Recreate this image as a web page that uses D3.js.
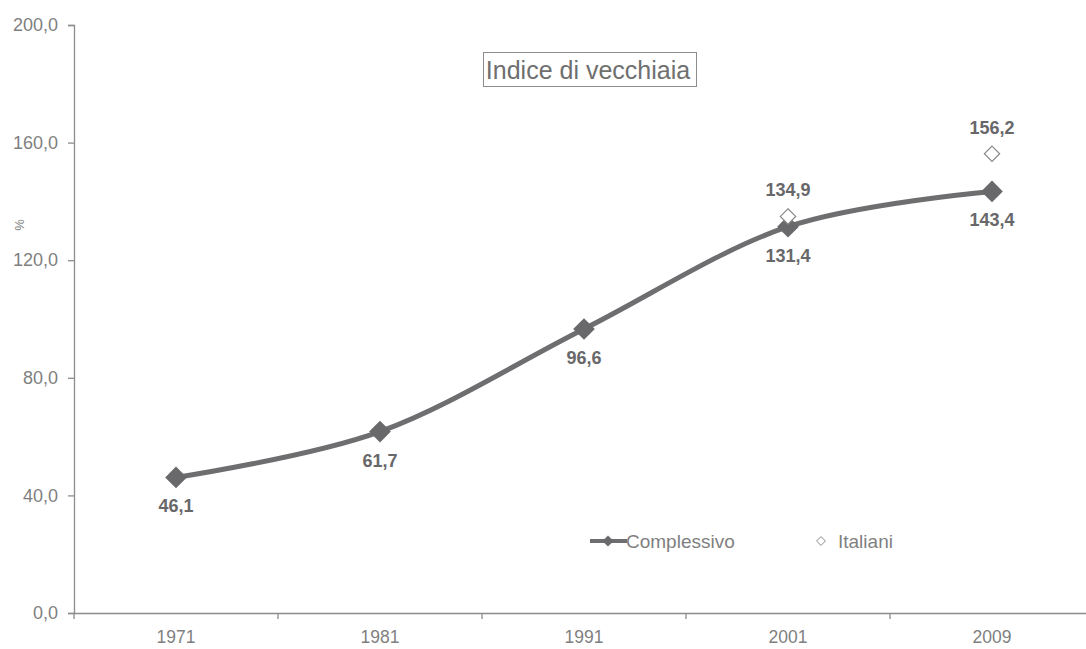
<!DOCTYPE html>
<html>
<head>
<meta charset="utf-8">
<script src="https://cdn.jsdelivr.net/npm/d3@7"></script>
<style>
  body { margin: 0; background: #fff; }
  svg { font-family: "Liberation Sans", Arial, sans-serif; }
</style>
</head>
<body>
<svg id="chart" width="1086" height="649"></svg>
<script>
// chart data
var years = ['1971', '1981', '1991', '2001', '2009'];
var complessivo = [46.1, 61.7, 96.6, 131.4, 143.4];
var italiani = [null, null, null, 134.9, 156.2];
var yTicks = [0, 40, 80, 120, 160, 200];

(function() {
    var svg = d3.select('#chart'),
        mLeft = 74, mRight = 1094, mTop = 25, mBottom = 613;

    var x = d3.scaleBand().domain(years).range([mLeft, mRight]),
        y = d3.scaleLinear().domain([0, 200]).range([mBottom, mTop]);

    var fmt = function(v) { return d3.format('.1f')(v).replace('.', ','); };

    // y axis
    var yAxis = svg.append('g')
        .attr('transform', 'translate(' + mLeft + ',0)')
        .call(d3.axisLeft(y).tickValues(yTicks).tickSize(6).tickPadding(10).tickFormat(fmt));
    yAxis.select('.domain').attr('stroke', '#8c8c8c').attr('stroke-width', 1.3);
    yAxis.selectAll('.tick line').attr('stroke', '#8c8c8c').attr('stroke-width', 1.3);
    yAxis.selectAll('.tick text').attr('fill', '#7f7f7f').style('font-size', '18px');

    // x axis, ticks sit between the categories
    var xAxis = svg.append('g')
        .attr('transform', 'translate(0,' + mBottom + ')')
        .call(d3.axisBottom(x).tickSize(0).tickPadding(18));
    xAxis.select('.domain').attr('stroke', '#8c8c8c').attr('stroke-width', 1.3);
    xAxis.selectAll('.tick text').attr('fill', '#7f7f7f').style('font-size', '17.5px');
    xAxis.selectAll('.sep')
        .data(years)
        .enter()
        .append('line')
        .attr('x1', function(d) { return x(d); })
        .attr('x2', function(d) { return x(d); })
        .attr('y1', 0).attr('y2', 6)
        .attr('stroke', '#8c8c8c').attr('stroke-width', 1.3);

    // % label
    svg.append('text')
        .attr('transform', 'translate(24,225) rotate(-90)')
        .attr('text-anchor', 'middle')
        .attr('fill', '#7f7f7f')
        .style('font-size', '13px')
        .text('%');

    // title box
    svg.append('rect')
        .attr('x', 483.5).attr('y', 52.5).attr('width', 213).attr('height', 34)
        .attr('fill', '#fff').attr('stroke', '#8c8c8c').attr('stroke-width', 1);
    svg.append('text')
        .attr('x', 588).attr('y', 79)
        .attr('text-anchor', 'middle')
        .attr('fill', '#6f6f6f')
        .style('font-size', '25px')
        .text('Indice di vecchiaia');

    var cx = function(i) { return x(years[i]) + x.bandwidth() / 2; };

    // smoothed line
    var line = d3.line()
        .x(function(d, i) { return cx(i); })
        .y(function(d) { return y(d); })
        .curve(d3.curveCardinal.tension(0));
    svg.append('path')
        .datum(complessivo)
        .attr('d', line)
        .attr('fill', 'none')
        .attr('stroke', '#6e6e70')
        .attr('stroke-width', 5);

    var diamond = function(s) { return d3.symbol().type(d3.symbolDiamond2).size(s)(); };

    // complessivo markers + labels
    svg.selectAll('.mk')
        .data(complessivo)
        .enter()
        .append('path')
        .attr('d', diamond(300))
        .attr('transform', function(d, i) { return 'translate(' + cx(i) + ',' + y(d) + ')'; })
        .attr('fill', '#69696b');
    svg.selectAll('.lb')
        .data(complessivo)
        .enter()
        .append('text')
        .attr('x', function(d, i) { return cx(i); })
        .attr('y', function(d) { return y(d) + 35; })
        .attr('text-anchor', 'middle')
        .attr('fill', '#68686a')
        .style('font-size', '18px').style('font-weight', 'bold')
        .text(fmt);

    // italiani markers + labels
    var ita = italiani.map(function(v, i) { return {v: v, i: i}; }).filter(function(d) { return d.v != null; });
    svg.selectAll('.mk2')
        .data(ita)
        .enter()
        .append('path')
        .attr('d', diamond(150))
        .attr('transform', function(d) { return 'translate(' + cx(d.i) + ',' + y(d.v) + ')'; })
        .attr('fill', '#fff')
        .attr('stroke', '#8a8a8a').attr('stroke-width', 1.2);
    svg.selectAll('.lb2')
        .data(ita)
        .enter()
        .append('text')
        .attr('x', function(d) { return cx(d.i); })
        .attr('y', function(d) { return y(d.v) - 20; })
        .attr('text-anchor', 'middle')
        .attr('fill', '#68686a')
        .style('font-size', '18px').style('font-weight', 'bold')
        .text(function(d) { return fmt(d.v); });

    // legend
    var lg = svg.append('g');
    lg.append('line')
        .attr('x1', 590).attr('x2', 627).attr('y1', 541).attr('y2', 541)
        .attr('stroke', '#6e6e70').attr('stroke-width', 4);
    lg.append('path')
        .attr('d', diamond(80))
        .attr('transform', 'translate(608,541)')
        .attr('fill', '#69696b');
    lg.append('text')
        .attr('x', 626).attr('y', 548)
        .attr('fill', '#7f7f7f').style('font-size', '19px')
        .text('Complessivo');
    lg.append('path')
        .attr('d', diamond(50))
        .attr('transform', 'translate(821,541)')
        .attr('fill', '#fff').attr('stroke', '#8a8a8a').attr('stroke-width', 1);
    lg.append('text')
        .attr('x', 838).attr('y', 548)
        .attr('fill', '#7f7f7f').style('font-size', '19px')
        .text('Italiani');
})();
</script>
</body>
</html>
